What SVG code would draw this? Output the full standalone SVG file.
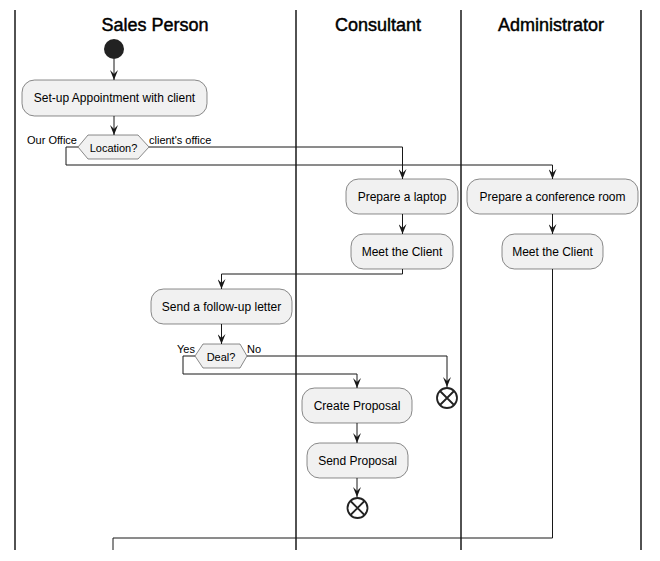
<svg xmlns="http://www.w3.org/2000/svg" width="660" height="561" viewBox="0 0 660 561">
<defs>
<style>
.lane{stroke:#181818;stroke-width:1.5;fill:none}
.title{font-family:"Liberation Sans",Arial,sans-serif;font-size:18px;fill:#000;stroke:#000;stroke-width:0.45;text-anchor:middle}
.box{fill:#F1F1F1;stroke:#181818;stroke-width:0.5}
.t{font-family:"Liberation Sans",Arial,sans-serif;font-size:12px;fill:#000;text-anchor:middle}
.lbl{font-family:"Liberation Sans",Arial,sans-serif;font-size:11px;fill:#000}
.c{stroke:#181818;stroke-width:1;fill:none}
.end{fill:none;stroke:#222;stroke-width:1.8}
</style>
<marker id="ah" viewBox="0 0 10 8" refX="10" refY="4" markerWidth="10" markerHeight="8" markerUnits="userSpaceOnUse" orient="auto">
<path d="M0,0 L10,4 L0,8 L4,4 Z" fill="#181818"/>
</marker>
</defs>
<rect width="660" height="561" fill="#fff"/>
<g id="lanes">
<line class="lane" x1="15" y1="10" x2="15" y2="550"/>
<line class="lane" x1="296" y1="10" x2="296" y2="550"/>
<line class="lane" x1="461" y1="10" x2="461" y2="550"/>
<line class="lane" x1="641" y1="10" x2="641" y2="550"/>
<text class="title" x="155" y="31">Sales Person</text>
<text class="title" x="378" y="31">Consultant</text>
<text class="title" x="551" y="31">Administrator</text>
</g>
<g id="connectors">
<path class="c" d="M114,59 V80" marker-end="url(#ah)"/>
<path class="c" d="M114,116 V135" marker-end="url(#ah)"/>
<path class="c" d="M149,147 H402.5 V179" marker-end="url(#ah)"/>
<path class="c" d="M78,147 H66 V165 H552.5 V179" marker-end="url(#ah)"/>
<path class="c" d="M402.5,214 V234" marker-end="url(#ah)"/>
<path class="c" d="M552.5,214 V234" marker-end="url(#ah)"/>
<path class="c" d="M402.5,269 V274 H221.5 V289" marker-end="url(#ah)"/>
<path class="c" d="M221.5,324 V344" marker-end="url(#ah)"/>
<path class="c" d="M247,356 H447 V387" marker-end="url(#ah)"/>
<path class="c" d="M195,356 H183 V374 H357 V388" marker-end="url(#ah)"/>
<path class="c" d="M357,423 V443" marker-end="url(#ah)"/>
<path class="c" d="M357,478 V497" marker-end="url(#ah)"/>
<path class="c" d="M552.5,269 V538 H113 V550"/>
<text class="lbl" x="77" y="144" text-anchor="end">Our Office</text>
<text class="lbl" x="149" y="144">client's office</text>
<text class="lbl" x="195" y="353" text-anchor="end">Yes</text>
<text class="lbl" x="247" y="353">No</text>
</g>
<g id="start"><circle cx="114" cy="49" r="10" fill="#222"/></g>
<g id="setup">
<rect class="box" x="22" y="80" width="185" height="36" rx="12.5"/>
<text class="t" x="114.5" y="102">Set-up Appointment with client</text>
</g>
<g id="location">
<polygon class="box" points="78,147 88,135 138,135 149,147 138,159 88,159"/>
<text class="lbl" x="113.5" y="151.5" text-anchor="middle">Location?</text>
</g>
<g id="laptop">
<rect class="box" x="346" y="179" width="112" height="35" rx="12.5"/>
<text class="t" x="402" y="201">Prepare a laptop</text>
</g>
<g id="confroom">
<rect class="box" x="467" y="179" width="171" height="35" rx="12.5"/>
<text class="t" x="552.5" y="201">Prepare a conference room</text>
</g>
<g id="meet1">
<rect class="box" x="351" y="234" width="102" height="35" rx="12.5"/>
<text class="t" x="402" y="256">Meet the Client</text>
</g>
<g id="meet2">
<rect class="box" x="502" y="234" width="101" height="35" rx="12.5"/>
<text class="t" x="552.5" y="256">Meet the Client</text>
</g>
<g id="followup">
<rect class="box" x="151" y="289" width="141" height="35" rx="12.5"/>
<text class="t" x="221.5" y="311">Send a follow-up letter</text>
</g>
<g id="deal">
<polygon class="box" points="195,356 203,344 240,344 247,356 240,368 203,368"/>
<text class="lbl" x="221" y="360.5" text-anchor="middle">Deal?</text>
</g>
<g id="end1">
<circle class="end" cx="447" cy="398" r="10"/>
<path class="end" d="M440,391 L454,405 M454,391 L440,405"/>
</g>
<g id="create">
<rect class="box" x="302" y="388" width="110" height="35" rx="12.5"/>
<text class="t" x="357" y="410">Create Proposal</text>
</g>
<g id="send">
<rect class="box" x="307" y="443" width="101" height="35" rx="12.5"/>
<text class="t" x="357.5" y="465">Send Proposal</text>
</g>
<g id="end2">
<circle class="end" cx="357.5" cy="508" r="10"/>
<path class="end" d="M350.5,501 L364.5,515 M364.5,501 L350.5,515"/>
</g>
</svg>
